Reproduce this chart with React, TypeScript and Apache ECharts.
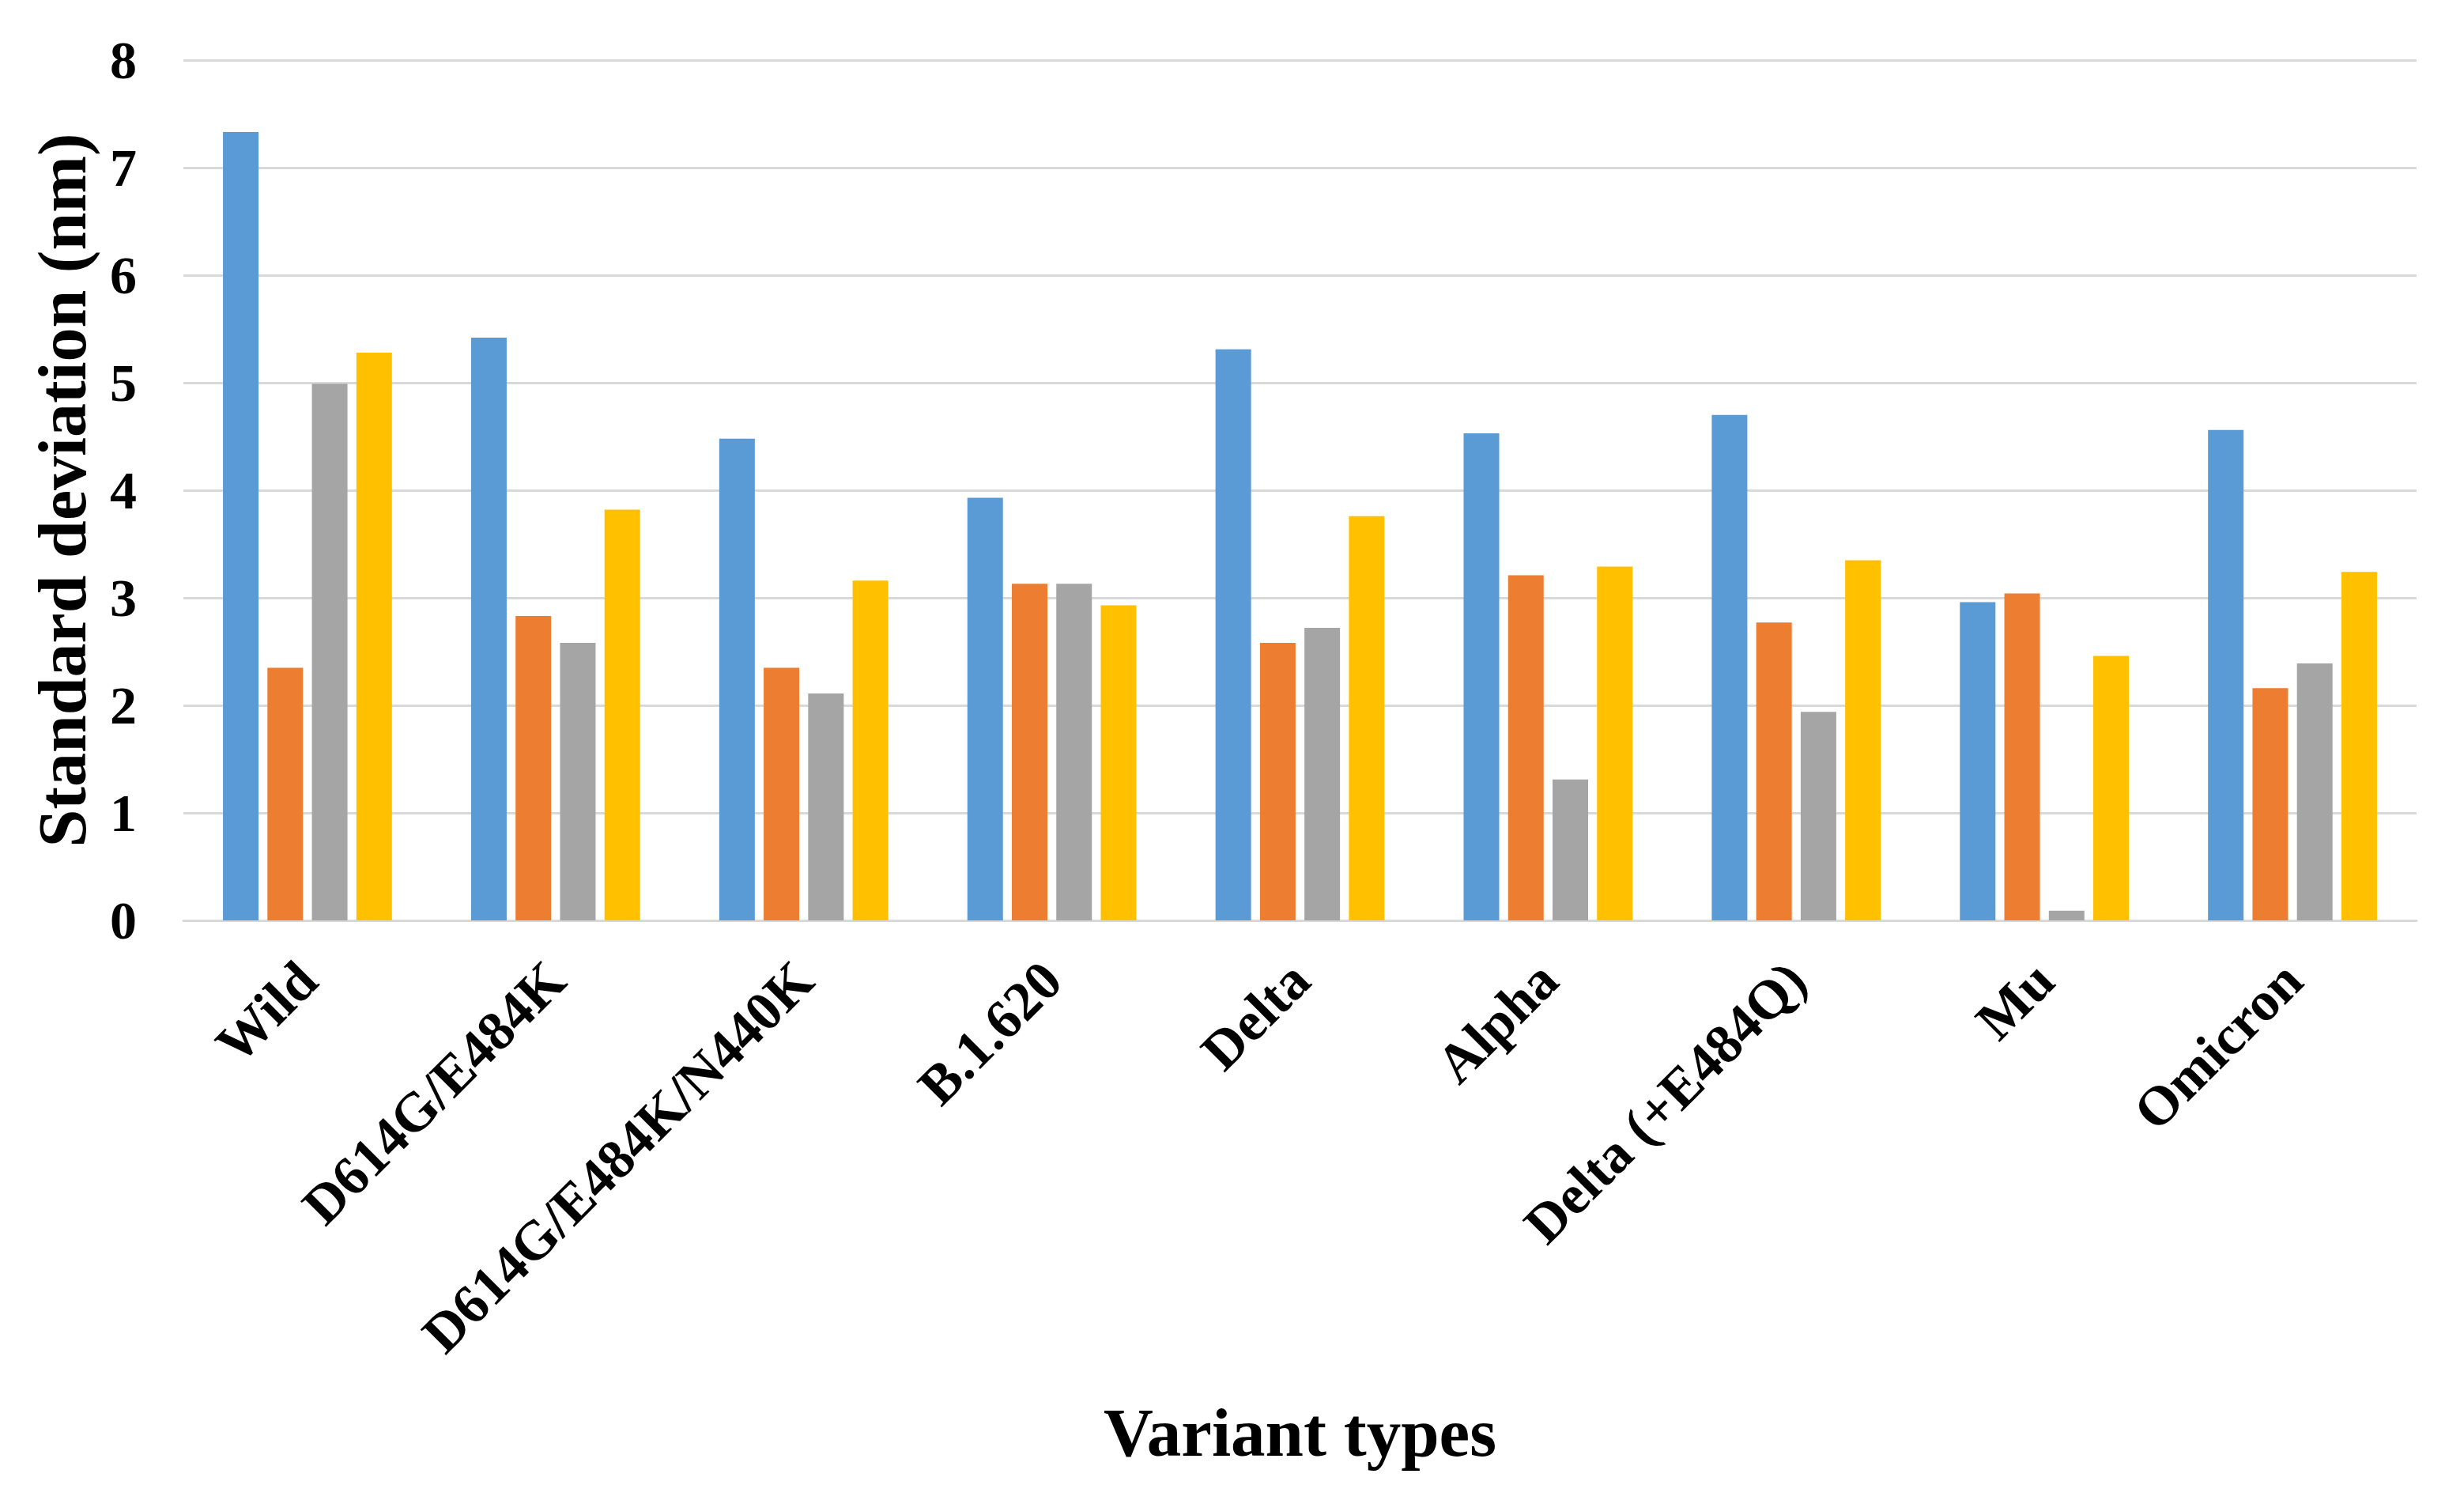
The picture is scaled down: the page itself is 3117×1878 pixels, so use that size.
import React, { useEffect, useRef } from "react";
import * as echarts from "echarts";

const categories = [
  "Wild",
  "D614G/E484K",
  "D614G/E484K/N440K",
  "B.1.620",
  "Delta",
  "Alpha",
  "Delta (+E484Q)",
  "Mu",
  "Omicron",
];

const seriesBlue = [7.33, 5.42, 4.48, 3.93, 5.31, 4.53, 4.7, 2.96, 4.56];
const seriesOrange = [2.35, 2.83, 2.35, 3.13, 2.58, 3.21, 2.77, 3.04, 2.16];
const seriesGray = [4.99, 2.58, 2.11, 3.13, 2.72, 1.31, 1.94, 0.09, 2.39];
const seriesYellow = [5.28, 3.82, 3.16, 2.93, 3.76, 3.29, 3.35, 2.46, 3.24];

const colors = ["#5B9BD5", "#ED7D31", "#A5A5A5", "#FFC000"];
const serif = "'Liberation Serif', 'Times New Roman', serif";

export default function App() {
  const ref = useRef<HTMLDivElement>(null);

  useEffect(() => {
    if (!ref.current) return;
    const chart = echarts.init(ref.current, null, { renderer: "svg" });
    const mk = (data: number[], i: number) => ({
      type: "bar",
      data,
      barWidth: 45,
      barGap: "25%",
      itemStyle: { color: colors[i] },
    });
    chart.setOption({
      animation: false,
      backgroundColor: "#ffffff",
      grid: { left: 232, right: 60, top: 76, bottom: 714, containLabel: false },
      xAxis: {
        type: "category",
        data: categories,
        name: "Variant types",
        nameLocation: "middle",
        nameGap: 604,
        nameTextStyle: {
          fontFamily: serif,
          fontWeight: "bold",
          fontSize: 87,
          color: "#000",
        },
        axisTick: { show: false },
        axisLine: { lineStyle: { color: "#D9D9D9", width: 3 } },
        axisLabel: {
          interval: 0,
          rotate: 45,
          margin: 64,
          fontFamily: serif,
          fontWeight: "bold",
          fontSize: 70,
          color: "#000",
        },
      },
      yAxis: {
        type: "value",
        min: 0,
        max: 8,
        interval: 1,
        name: "Standard deviation (nm)",
        nameLocation: "middle",
        nameGap: 110,
        nameTextStyle: {
          fontFamily: serif,
          fontWeight: "bold",
          fontSize: 86,
          color: "#000",
        },
        axisLine: { show: false },
        axisTick: { show: false },
        splitLine: { lineStyle: { color: "#D9D9D9", width: 3 } },
        axisLabel: {
          margin: 59,
          fontFamily: serif,
          fontWeight: "bold",
          fontSize: 68,
          color: "#000",
        },
      },
      series: [
        mk(seriesBlue, 0),
        mk(seriesOrange, 1),
        mk(seriesGray, 2),
        mk(seriesYellow, 3),
      ],
    });
    return () => chart.dispose();
  }, []);

  return (
    <div
      ref={ref}
      style={{ position: "absolute", left: 0, top: 0, width: 3117, height: 1878 }}
    />
  );
}
